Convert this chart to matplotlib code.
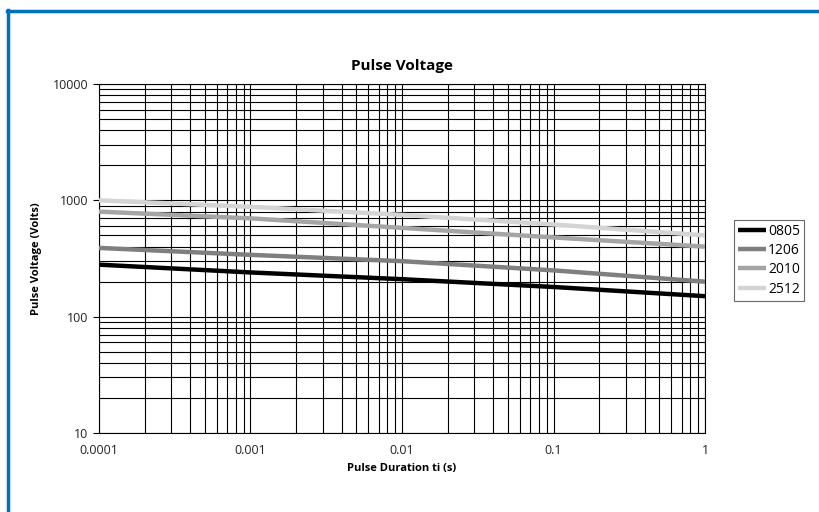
import matplotlib
matplotlib.use("Agg")
import matplotlib.pyplot as plt
from matplotlib.lines import Line2D
from matplotlib.ticker import LogLocator, FixedLocator, NullFormatter

plt.rcParams['font.family'] = ['Open Sans', 'DejaVu Sans']

# pulse duration (s) and voltage per size
durations = [0.0001, 0.001, 0.01, 0.1, 1]
sizes = ['0805', '1206', '2010', '2512']
v_0805 = [280, 240, 210, 180, 150]
v_1206 = [390, 340, 300, 250, 200]
v_2010 = [800, 700, 580, 480, 400]
v_2512 = [1000, 880, 750, 620, 500]
series = [v_0805, v_1206, v_2010, v_2512]
colors = ['#000000', '#7f7f7f', '#a5a5a5', '#d4d4d4']

x_ticks = [0.0001, 0.001, 0.01, 0.1, 1]
x_labels = ['0.0001', '0.001', '0.01', '0.1', '1']
y_ticks = [10, 100, 1000, 10000]
y_labels = ['10', '100', '1000', '10000']


def main():
    fig = plt.figure(figsize=(8.2, 5.12), dpi=100)
    ax = fig.add_axes([0.1207, 0.1543, 0.7391, 0.6816])

    for name, vals, c in zip(sizes, series, colors):
        ax.plot(durations, vals, color=c, lw=3.2, label=name,
                solid_capstyle='butt', zorder=3)

    ax.set_xscale('log')
    ax.set_yscale('log')
    ax.set_xlim(0.0001, 1)
    ax.set_ylim(10, 10000)

    ax.xaxis.set_major_locator(FixedLocator(x_ticks))
    ax.set_xticklabels(x_labels)
    ax.yaxis.set_major_locator(FixedLocator(y_ticks))
    ax.set_yticklabels(y_labels)
    for axis in (ax.xaxis, ax.yaxis):
        axis.set_minor_locator(LogLocator(base=10, subs=range(2, 10)))
        axis.set_minor_formatter(NullFormatter())

    ax.grid(True, which='both', color='black', lw=0.8, zorder=1)
    ax.tick_params(which='major', direction='out', length=4, width=0.8,
                   labelsize=9, colors='black', labelcolor='#222222')
    ax.tick_params(axis='x', which='major', length=0, pad=8)
    ax.tick_params(which='minor', length=0)
    for s in ax.spines.values():
        s.set_linewidth(0.8)

    ax.set_title('Pulse Voltage', fontsize=11, fontweight='bold', pad=10)
    ax.set_xlabel('Pulse Duration ti (s)', fontsize=8, fontweight='bold',
                  labelpad=4)
    ax.set_ylabel('Pulse Voltage (Volts)', fontsize=8, fontweight='bold',
                  labelpad=8)

    leg = ax.legend(loc='center left', bbox_to_anchor=(1.048, 0.495),
                    frameon=True, fancybox=False, fontsize=10,
                    handlelength=2.0, handletextpad=0.15,
                    borderpad=0.3, labelspacing=0.3, borderaxespad=0)
    leg.get_frame().set_edgecolor('#444444')
    leg.get_frame().set_linewidth(0.8)

    # blue frame along top and left edges
    fig.add_artist(Line2D([0.0085, 1.0], [0.9785, 0.9785],
                          color='#0070c0', lw=2.5, transform=fig.transFigure))
    fig.add_artist(Line2D([0.0098, 0.0098], [0.0, 0.98],
                          color='#0070c0', lw=2.5, transform=fig.transFigure))

    fig.savefig('out.png', dpi=100)


if __name__ == "__main__":
    main()
